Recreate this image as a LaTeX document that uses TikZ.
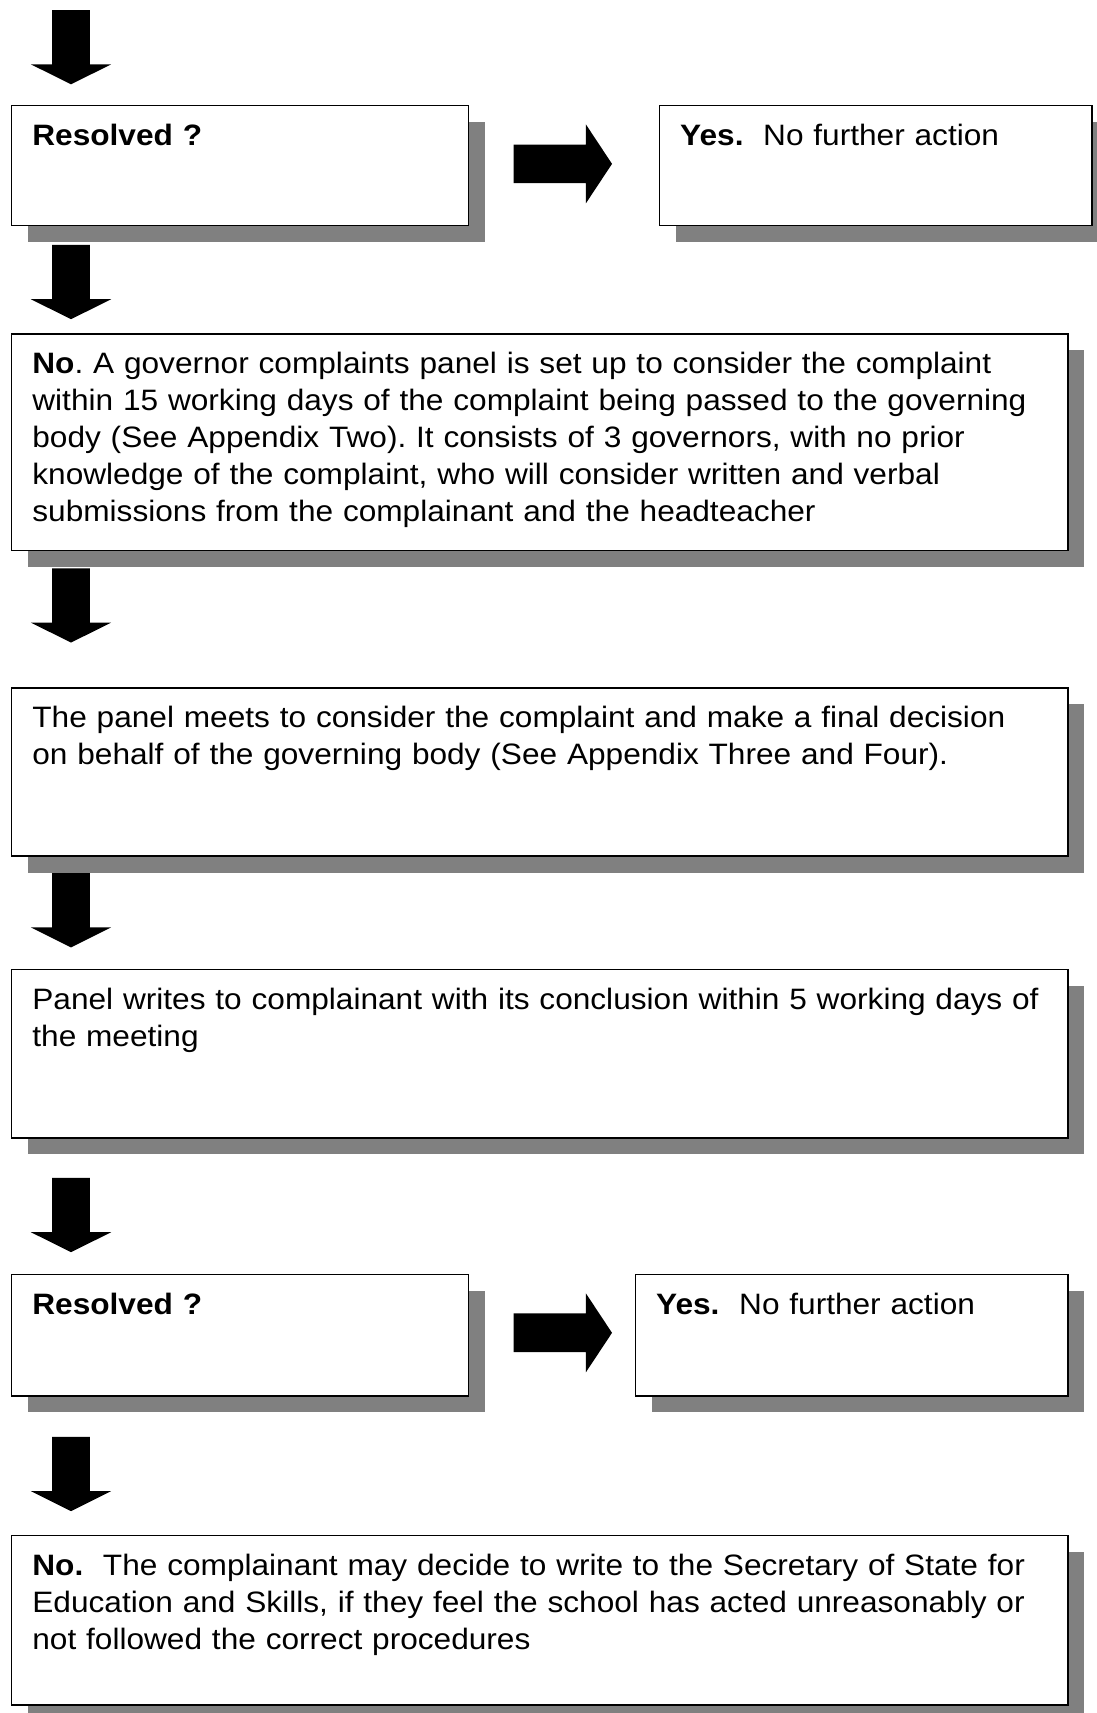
\documentclass[tikz,border=0pt]{standalone}
\usepackage{fontspec}
\setmainfont{Liberation Sans}[FakeStretch=1.072]
\frenchspacing
\usetikzlibrary{shapes.arrows,shadows}
\definecolor{shadowgray}{RGB}{128,128,128}

\begin{document}
\begin{tikzpicture}[
x=1pt, y=-1pt,
  stage/.style = {rectangle, draw, line width=1.3pt, fill=white,% boxes of the procedure
                  anchor=north west, align=left,
                  inner xsep=19pt, inner ysep=0pt, text height=36.5pt,
                  font=\fontsize{27}{33.75}\selectfont,
                  drop shadow={shadow xshift=15pt, shadow yshift=-15pt,
                               fill=shadowgray, opacity=1}},
   down/.style = {single arrow, fill=black, draw=none, anchor=tail,% block arrows
                  shape border rotate=270, inner sep=17pt,
                  minimum height=68pt, single arrow head extend=19.5pt,
                  single arrow tip angle=127},
  right/.style = {single arrow, fill=black, draw=none, anchor=tail,
                  inner sep=17.5pt, minimum height=90pt,
                  single arrow head extend=18.5pt, single arrow tip angle=113},
                        ]
\path[use as bounding box, fill=white] (0,0) rectangle (1004,1568);
% boxes
\node[stage, text width=380pt, text depth=73.5pt] (res1) at (10,96)
    {\textbf{Resolved ?}};
\node[stage, text width=358pt, text depth=73.5pt] (yes1) at (603,96)
    {\textbf{Yes.}\ \ No further action};
\node[stage, text width=929pt, text depth=161.5pt] (panel) at (10,305)
    {\textbf{No}. A governor complaints panel is set up to consider the complaint\\
     within 15 working days of the complaint being passed to the governing\\
     body (See Appendix Two). It consists of 3 governors, with no prior\\
     knowledge of the complaint, who will consider written and verbal\\
     submissions from the complainant and the headteacher};
\node[stage, text width=929pt, text depth=117.5pt] (meet) at (10,629)
    {The panel meets to consider the complaint and make a final decision\\
     on behalf of the governing body (See Appendix Three and Four).};
\node[stage, text width=929pt, text depth=117.5pt] (writes) at (10,887)
    {Panel writes to complainant with its conclusion within 5 working days of\\
     the meeting};
\node[stage, text width=380pt, text depth=74.5pt] (res2) at (10,1166)
    {\textbf{Resolved ?}};
\node[stage, text width=358pt, text depth=74.5pt] (yes2) at (581,1166)
    {\textbf{Yes.}\ \ No further action};
\node[stage, text width=929pt, text depth=118.5pt] (final) at (10,1405)
    {\textbf{No.}\ \ The complainant may decide to write to the Secretary of State for\\
     Education and Skills, if they feel the school has acted unreasonably or\\
     not followed the correct procedures};
% arrows
\foreach \n/\y in {a1/9, a2/224, a3/520, a4/799, a5/1078, a6/1315}% <-- tails of down arrows
    \node[down] (\n) at (65,\y) {};
\node[right] (r1) at (470,150) {};
\node[right] (r2) at (470,1220) {};
\end{tikzpicture}
\end{document}
